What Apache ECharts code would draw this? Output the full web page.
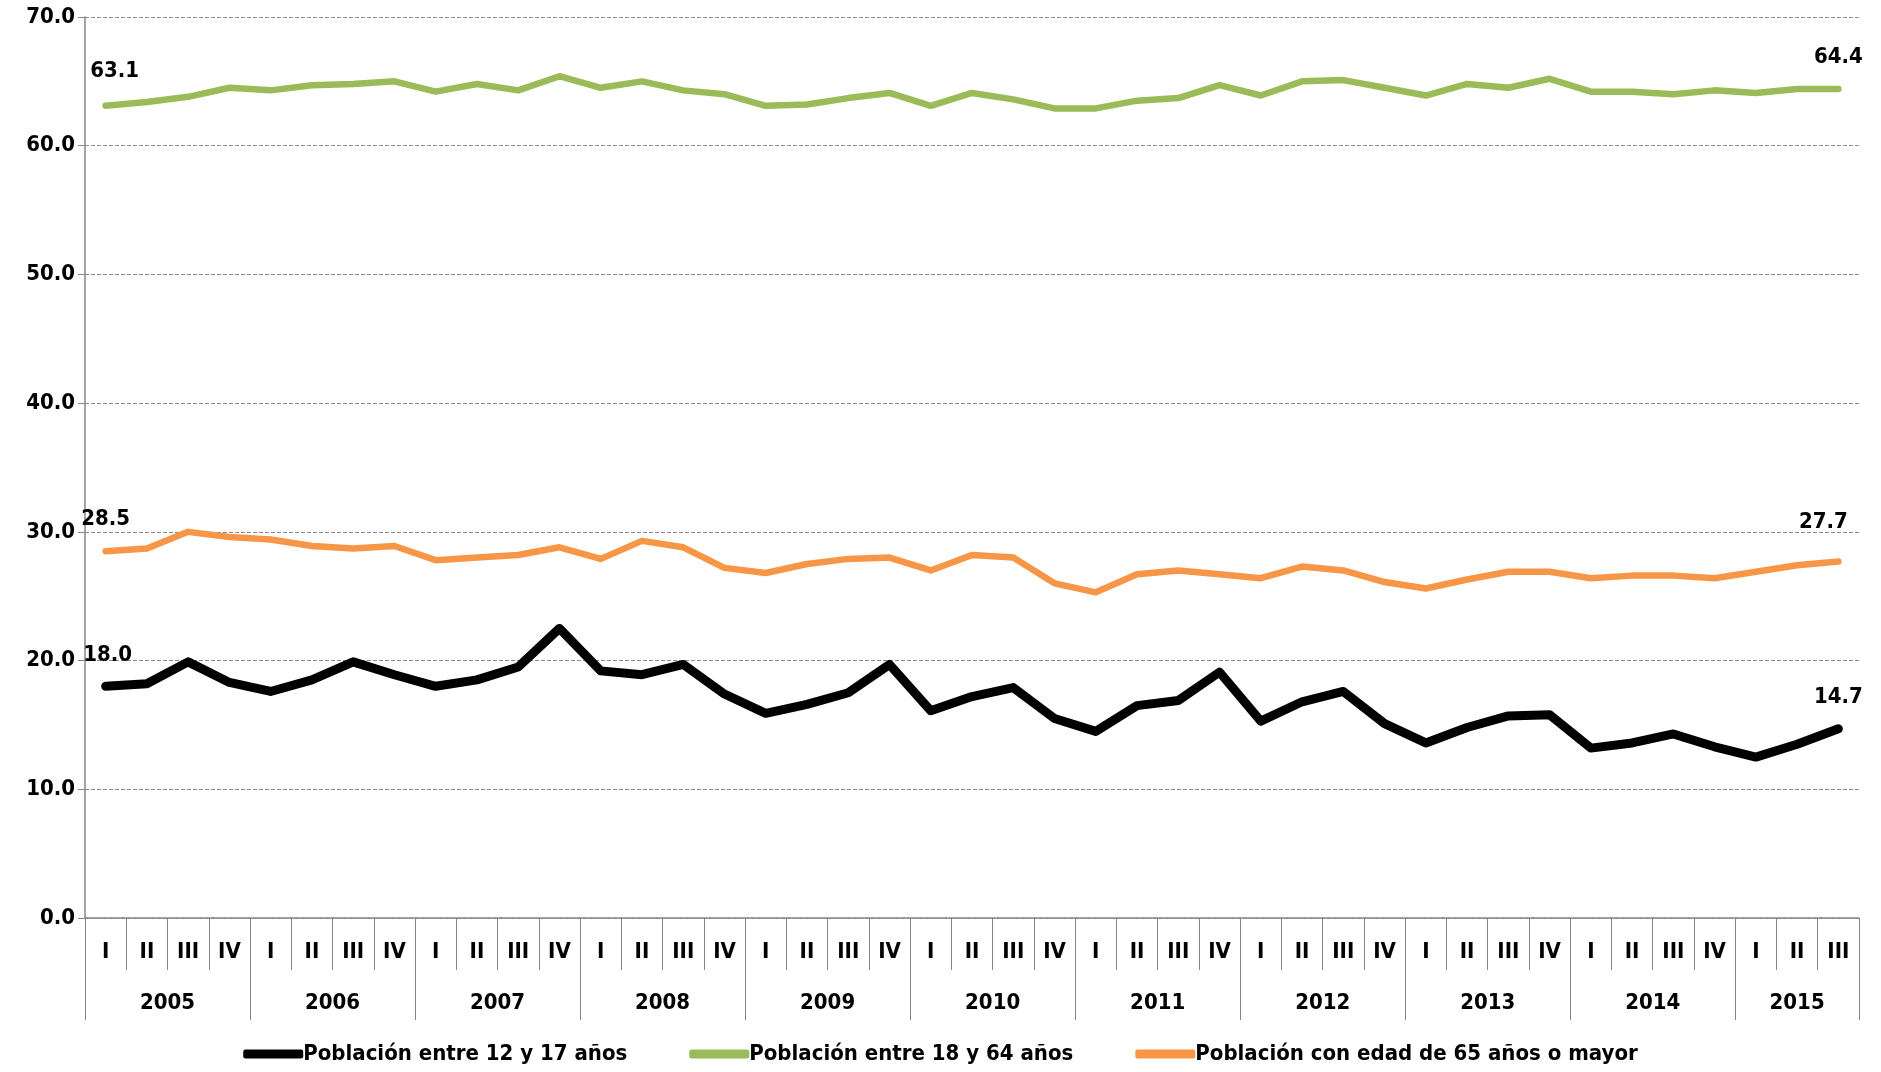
<!DOCTYPE html>
<html>
<head>
<meta charset="utf-8">
<script src="https://cdn.jsdelivr.net/npm/echarts@6/dist/echarts.min.js"></script>
<style>
    html, body { margin: 0; padding: 0; background: #fff; }
    #main { width: 1881px; height: 1072px; }
</style>
</head>
<body>
<div id="main"></div>
<script>
    var years = ['2005', '2006', '2007', '2008', '2009', '2010', '2011', '2012', '2013', '2014', '2015'];
    var quarterNames = ['I', 'II', 'III', 'IV'];
    var yTicks = [0, 10, 20, 30, 40, 50, 60, 70];

    // porcentajes por trimestre, 2005-I a 2015-III
    var pob12a17 = [18.0, 18.2, 19.9, 18.3, 17.6, 18.5, 19.9, 18.9, 18.0, 18.5, 19.5, 22.5,
        19.2, 18.9, 19.7, 17.4, 15.9, 16.6, 17.5, 19.7, 16.1, 17.2, 17.9, 15.5,
        14.5, 16.5, 16.9, 19.1, 15.3, 16.8, 17.6, 15.1, 13.6, 14.8, 15.7, 15.8,
        13.2, 13.6, 14.3, 13.3, 12.5, 13.5, 14.7];
    var pob18a64 = [63.1, 63.4, 63.8, 64.5, 64.3, 64.7, 64.8, 65.0, 64.2, 64.8, 64.3, 65.4,
        64.5, 65.0, 64.3, 64.0, 63.1, 63.2, 63.7, 64.1, 63.1, 64.1, 63.6, 62.9,
        62.9, 63.5, 63.7, 64.7, 63.9, 65.0, 65.1, 64.5, 63.9, 64.8, 64.5, 65.2,
        64.2, 64.2, 64.0, 64.3, 64.1, 64.4, 64.4];
    var pob65mas = [28.5, 28.7, 30.0, 29.6, 29.4, 28.9, 28.7, 28.9, 27.8, 28.0, 28.2, 28.8,
        27.9, 29.3, 28.8, 27.2, 26.8, 27.5, 27.9, 28.0, 27.0, 28.2, 28.0, 26.0,
        25.3, 26.7, 27.0, 26.7, 26.4, 27.3, 27.0, 26.1, 25.6, 26.3, 26.9, 26.9,
        26.4, 26.6, 26.6, 26.4, 26.9, 27.4, 27.7];

    var font = "'Liberation Sans Narrow', 'DejaVu Sans Condensed', 'Noto Sans', sans-serif";
    var n = pob12a17.length;

    // categorias de trimestre
    var quarters = [];
    for (var i = 0; i < n; i++) {
        quarters.push(quarterNames[i % 4]);
    }

    // limites y centros de cada año sobre el eje de trimestres
    var yearBounds = [-0.5], yearCenters = [];
    for (var y = 0; y < years.length; y++) {
        var start = y * 4, end = Math.min(start + 4, n);
        yearBounds.push(end - 0.5);
        yearCenters.push((start + end - 1) / 2);
    }

    var textStyle = {color: '#000', fontFamily: font, fontWeight: 'bold', fontSize: 22};

    // solo el primer y el ultimo valor llevan etiqueta
    function lineSeries(name, data, color, width, firstOffset, lastOffset) {
        var items = data.map(function (v, idx) {
            if (idx === 0 || idx === data.length - 1) {
                return {
                    value: v,
                    label: Object.assign({
                        show: true,
                        position: 'top',
                        distance: 20,
                        offset: idx === 0 ? firstOffset : lastOffset,
                        formatter: function (p) { return p.value.toFixed(1); }
                    }, textStyle)
                };
            }
            return v;
        });
        return {
            name: name,
            type: 'line',
            data: items,
            color: color,
            symbol: 'circle',
            symbolSize: 1,
            showSymbol: true,
            showAllSymbol: true,
            lineStyle: {width: width, cap: 'round', join: 'round'}
        };
    }

    var chart = echarts.init(document.getElementById('main'));
    var option = {
        animation: false,
        grid: {left: 85, right: 22, top: 17, bottom: 154},
        legend: {
            bottom: 2,
            left: 'center',
            itemWidth: 60,
            itemHeight: 9,
            itemGap: 62,
            icon: 'roundRect',
            textStyle: {fontFamily: font, fontSize: 22, fontWeight: 'bold', color: '#000', padding: [0, 0, 0, -5]},
            data: ['Población entre 12 y 17 años', 'Población entre 18 y 64 años', 'Población con edad de 65 años o mayor']
        },
        xAxis: [{
            type: 'category',
            data: quarters,
            boundaryGap: true,
            axisLine: {lineStyle: {color: '#868686', width: 1.5}},
            axisTick: {show: true, interval: 0, length: 52, lineStyle: {color: '#868686'}},
            axisLabel: Object.assign({interval: 0, margin: 23}, textStyle)
        }, {
            type: 'value',
            position: 'bottom',
            min: -0.5,
            max: n - 0.5,
            splitLine: {show: false},
            axisLine: {show: false},
            axisTick: {show: true, length: 102, customValues: yearBounds, lineStyle: {color: '#868686'}},
            axisLabel: Object.assign({
                margin: 74,
                customValues: yearCenters,
                formatter: function (v) {
                    return years[yearCenters.indexOf(v)];
                }
            }, textStyle)
        }],
        yAxis: {
            type: 'value',
            min: yTicks[0],
            max: yTicks[yTicks.length - 1],
            interval: 10,
            axisLine: {show: true, onZero: false, lineStyle: {color: '#868686', width: 1.5}},
            axisTick: {show: true, length: 7, lineStyle: {color: '#868686'}},
            axisLabel: Object.assign({
                margin: 10,
                formatter: function (v) { return v.toFixed(1); }
            }, textStyle),
            splitLine: {lineStyle: {color: '#8c8c8c', type: [4, 2], width: 1}}
        },
        series: [
            lineSeries('Población entre 12 y 17 años', pob12a17, '#000000', 9, [2, 0], [0, 0]),
            lineSeries('Población entre 18 y 64 años', pob18a64, '#9BBB59', 6.5, [9, -3], [0, 0]),
            lineSeries('Población con edad de 65 años o mayor', pob65mas, '#F79646', 6.5, [0, 0], [-15, -8])
        ]
    };
    chart.setOption(option);
</script>
</body>
</html>
